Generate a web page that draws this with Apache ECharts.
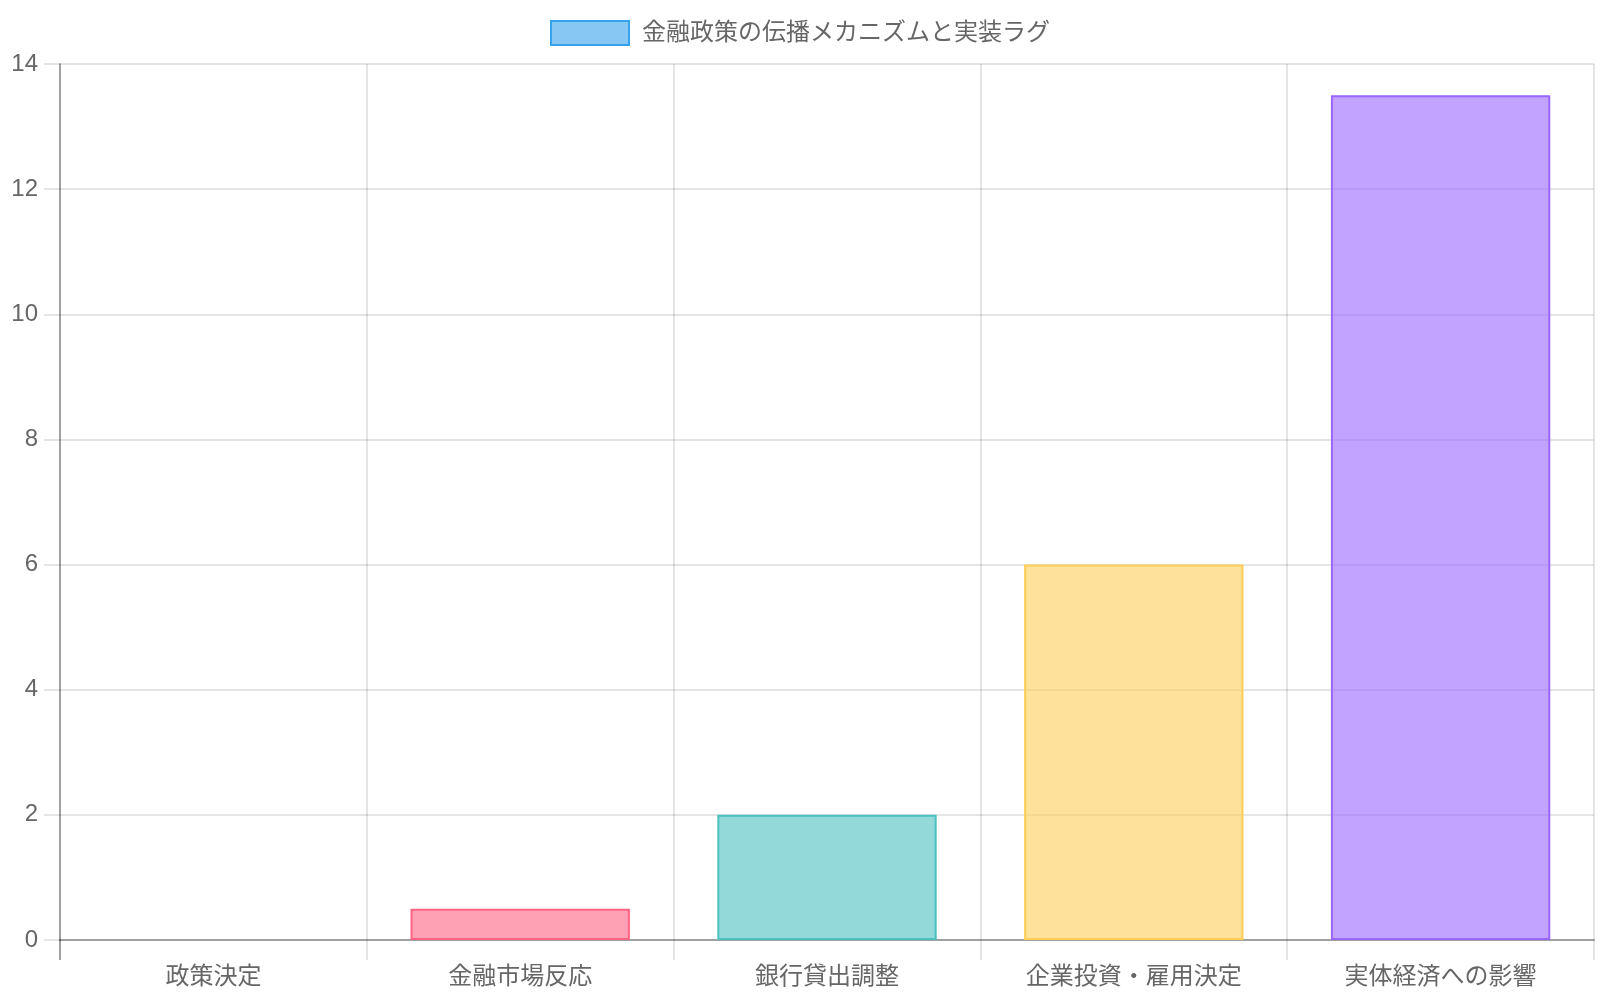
<!DOCTYPE html>
<html>
<head>
<meta charset="utf-8">
<script src="https://cdn.jsdelivr.net/npm/echarts@6/dist/echarts.min.js"></script>
<style>
html,body{margin:0;padding:0;background:#fff;}
#chart{width:1600px;height:1000px;}
</style>
</head>
<body>
<div id="chart"></div>
<script>
const seriesName = '金融政策の伝播メカニズムと実装ラグ';
const categories = ['政策決定', '金融市場反応', '銀行貸出調整', '企業投資・雇用決定', '実体経済への影響'];
const values = [0, 0.5, 2, 6, 13.5];
const yTicks = { min: 0, max: 14, step: 2 };

const fillColors = ['rgba(54,162,235,0.6)', 'rgba(255,99,132,0.6)', 'rgba(75,192,192,0.6)', 'rgba(255,206,86,0.6)', 'rgba(153,102,255,0.6)'];
const borderColors = ['rgb(54,162,235)', 'rgb(255,99,132)', 'rgb(75,192,192)', 'rgb(255,206,86)', 'rgb(153,102,255)'];

const FONT = '"Liberation Sans", Arial, "Noto Sans CJK JP", sans-serif';
const gridColor = 'rgba(0,0,0,0.1)';
const zeroColor = 'rgba(0,0,0,0.3)';

const chart = echarts.init(document.getElementById('chart'));
chart.setOption({
  animation: false,
  backgroundColor: '#fff',
  legend: {
    top: 15,
    left: 'center',
    itemWidth: 78,
    itemHeight: 24,
    textStyle: { fontFamily: FONT, fontSize: 24, color: '#666', padding: [0, 0, 0, 8] },
    data: [{
      name: seriesName,
      icon: 'rect',
      itemStyle: { color: fillColors[0], borderColor: borderColors[0], borderWidth: 2 }
    }]
  },
  grid: { left: 60, right: 6, top: 64, bottom: 60, containLabel: false },
  xAxis: [{
    type: 'category',
    data: categories,
    boundaryGap: true,
    axisLine: { show: true, lineStyle: { color: zeroColor, width: 2 } },
    axisTick: { show: true, length: 20, lineStyle: { color: gridColor, width: 2 } },
    splitLine: { show: true, lineStyle: { color: gridColor, width: 2 } },
    axisLabel: { fontFamily: FONT, fontSize: 24, color: '#666', margin: 25 }
  }, {
    type: 'value',
    position: 'bottom',
    min: 0,
    max: 1,
    axisLine: { show: false },
    axisTick: { show: true, length: 20, customValues: [0], lineStyle: { color: zeroColor, width: 2 } },
    axisLabel: { show: false },
    splitLine: { show: false }
  }],
  yAxis: {
    type: 'value',
    min: yTicks.min,
    max: yTicks.max,
    interval: yTicks.step,
    axisLine: { show: true, lineStyle: { color: zeroColor, width: 2 } },
    axisTick: { show: true, length: 16, lineStyle: { color: gridColor, width: 2 } },
    splitLine: { show: true, lineStyle: { color: gridColor, width: 2 } },
    axisLabel: { fontFamily: FONT, fontSize: 24, color: '#666', margin: 22 }
  },
  series: [{
    name: seriesName,
    type: 'bar',
    barWidth: '71.5%',
    itemStyle: { color: fillColors[0], borderColor: borderColors[0], borderWidth: 2 },
    data: values.map((v, i) => ({
      value: v,
      itemStyle: { color: fillColors[i], borderColor: borderColors[i], borderWidth: v === 0 ? 0 : 2 }
    }))
  }]
});
</script>
</body>
</html>
